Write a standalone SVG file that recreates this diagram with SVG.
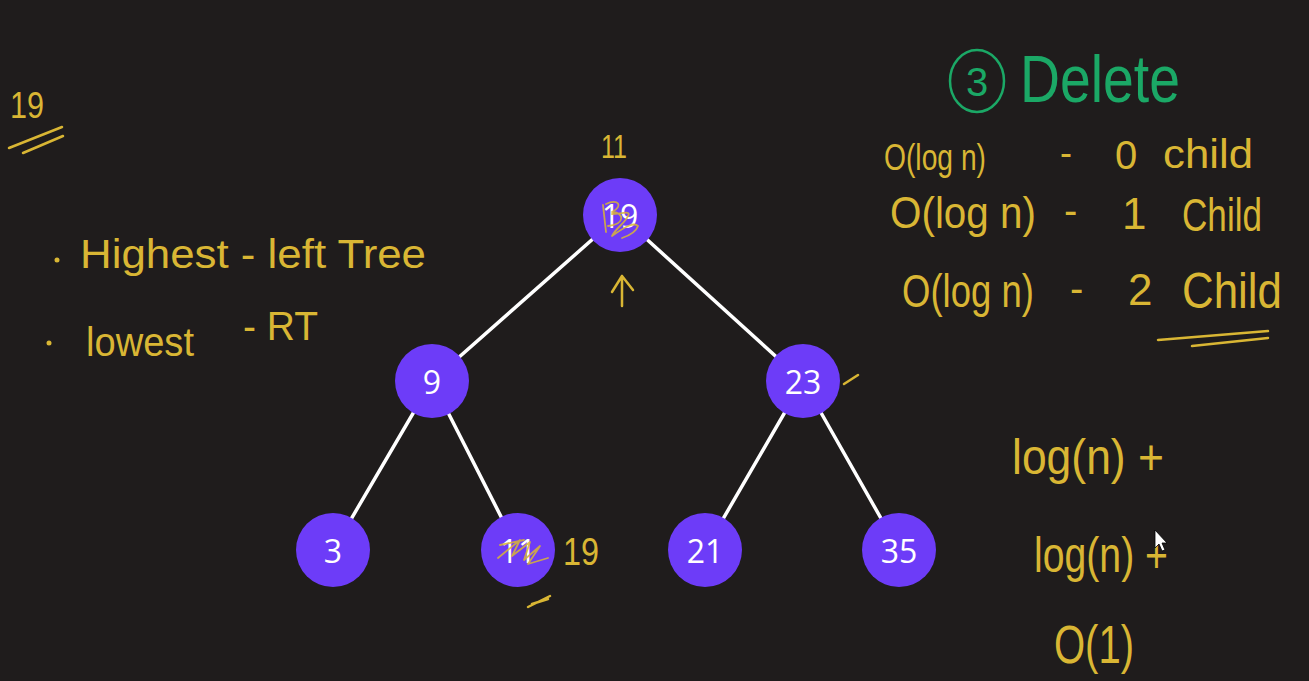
<svg xmlns="http://www.w3.org/2000/svg" width="1309" height="681" viewBox="0 0 1309 681">
<style>
.bg{fill:#1f1c1c}
.edge{stroke:#ffffff;stroke-width:3.5;stroke-linecap:round}
.node{fill:#6d3cf8}
.lbl{font-family:"Open Sans","Noto Sans",sans-serif;font-size:32px;fill:#ffffff;text-anchor:middle;dominant-baseline:central}
.hw{font-family:"Liberation Sans","DejaVu Sans",sans-serif;fill:#d9b634}
.ink{fill:none;stroke:#d9b634;stroke-width:2.5;stroke-linecap:round;stroke-linejoin:round}
.thin{stroke-width:1.8;opacity:0.85}
.green{fill:#1ba866;font-family:"Liberation Sans","DejaVu Sans",sans-serif}
.gink{fill:none;stroke:#1ba866;stroke-width:2.5}
</style>
<rect class="bg" x="0" y="0" width="1309" height="681"/>

<g id="connectors">
<line class="edge" x1="620" y1="215" x2="432" y2="381"/>
<line class="edge" x1="620" y1="215" x2="803" y2="381"/>
<line class="edge" x1="432" y1="381" x2="333" y2="550"/>
<line class="edge" x1="432" y1="381" x2="518" y2="550"/>
<line class="edge" x1="803" y1="381" x2="705" y2="550"/>
<line class="edge" x1="803" y1="381" x2="899" y2="550"/>
</g>

<g id="node-19">
<circle class="node" cx="620" cy="215" r="37"/>
<text class="lbl" x="620" y="215">19</text>
<path class="ink thin" d="M603 205 L606 232 M606 204 C618 198 624 206 612 212 C624 212 626 224 608 226 M612 214 C620 214 632 210 628 216 C626 222 616 228 612 236 C626 226 634 222 638 226 C636 232 628 236 622 238"/>
</g>
<g id="node-9">
<circle class="node" cx="432" cy="381" r="37"/>
<text class="lbl" x="432" y="381">9</text>
</g>
<g id="node-23">
<circle class="node" cx="803" cy="381" r="37"/>
<text class="lbl" x="803" y="381">23</text>
</g>
<g id="node-3">
<circle class="node" cx="333" cy="550" r="37"/>
<text class="lbl" x="333" y="550">3</text>
</g>
<g id="node-11">
<circle class="node" cx="518" cy="550" r="37"/>
<text class="lbl" x="518" y="550">11</text>
<path class="ink thin" d="M500 545 L524 540 M498 558 L520 540 L512 556 L530 542 L524 560 L540 546 L528 564 L548 558"/>
</g>
<g id="node-21">
<circle class="node" cx="705" cy="550" r="37"/>
<text class="lbl" x="705" y="550">21</text>
</g>
<g id="node-35">
<circle class="node" cx="899" cy="550" r="37"/>
<text class="lbl" x="899" y="550">35</text>
</g>

<g id="notes-left">
<text class="hw" x="10" y="118" font-size="36" textLength="34" lengthAdjust="spacingAndGlyphs">19</text>
<path class="ink" d="M9 148 L62 127 M23 153 L63 136"/>
<circle cx="57" cy="260" r="2.5" fill="#d9b634"/>
<text class="hw" x="80" y="268" font-size="40" textLength="346" lengthAdjust="spacingAndGlyphs">Highest - left Tree</text>
<circle cx="49" cy="343" r="2.5" fill="#d9b634"/>
<text class="hw" x="86" y="356" font-size="40" textLength="108" lengthAdjust="spacingAndGlyphs">lowest</text>
<text class="hw" x="243" y="340" font-size="40" textLength="75" lengthAdjust="spacingAndGlyphs">- RT</text>
</g>

<g id="notes-tree">
<text class="hw" x="601" y="158" font-size="34" textLength="26" lengthAdjust="spacingAndGlyphs">11</text>
<path class="ink" d="M622 306 L622 276 M612 292 L622 276 L633 290"/>
<text class="hw" x="563" y="565" font-size="38" textLength="36" lengthAdjust="spacingAndGlyphs">19</text>
<path class="ink" d="M528 607 L550 596 M532 604 L548 599"/>
<path class="ink" d="M844 384 L858 375"/>
</g>

<g id="notes-delete">
<ellipse class="gink" cx="977" cy="81" rx="27" ry="31"/>
<text class="green" x="977" y="96" font-size="40" text-anchor="middle">3</text>
<text class="green" x="1020" y="102" font-size="66" textLength="160" lengthAdjust="spacingAndGlyphs">Delete</text>

<text class="hw" x="884" y="170" font-size="36" textLength="102" lengthAdjust="spacingAndGlyphs">O(log n)</text>
<text class="hw" x="1060" y="165" font-size="36">-</text>
<text class="hw" x="1115" y="169" font-size="40">0</text>
<text class="hw" x="1163" y="168" font-size="40" textLength="90" lengthAdjust="spacingAndGlyphs">child</text>

<text class="hw" x="890" y="228" font-size="44" textLength="146" lengthAdjust="spacingAndGlyphs">O(log n)</text>
<text class="hw" x="1064" y="224" font-size="40">-</text>
<text class="hw" x="1122" y="229" font-size="44">1</text>
<text class="hw" x="1182" y="231" font-size="46" textLength="80" lengthAdjust="spacingAndGlyphs">Child</text>

<text class="hw" x="902" y="307" font-size="46" textLength="132" lengthAdjust="spacingAndGlyphs">O(log n)</text>
<text class="hw" x="1070" y="302" font-size="40">-</text>
<text class="hw" x="1128" y="305" font-size="44">2</text>
<text class="hw" x="1182" y="308" font-size="50" textLength="100" lengthAdjust="spacingAndGlyphs">Child</text>
<path class="ink" d="M1158 340 L1268 331 M1192 346 L1268 338"/>
</g>

<g id="notes-sum">
<text class="hw" x="1012" y="474" font-size="50" textLength="152" lengthAdjust="spacingAndGlyphs">log(n) +</text>
<text class="hw" x="1034" y="572" font-size="50" textLength="134" lengthAdjust="spacingAndGlyphs">log(n) +</text>
<text class="hw" x="1054" y="663" font-size="54" textLength="80" lengthAdjust="spacingAndGlyphs">O(1)</text>
</g>

<path d="M1155 530 L1155 548 L1159 544 L1162 551 L1165 550 L1162 543 L1167 543 Z" fill="#ffffff" stroke="#000000" stroke-width="0.8"/>
</svg>
